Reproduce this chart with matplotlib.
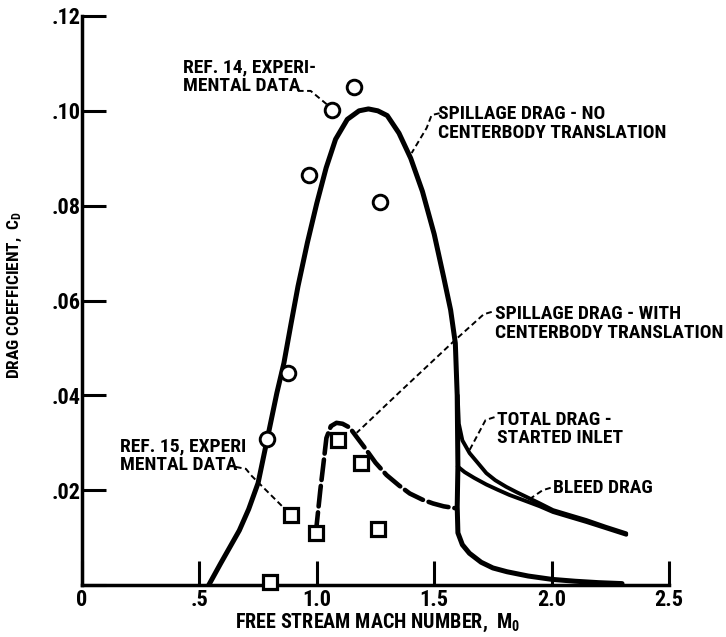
import matplotlib
matplotlib.use("Agg")
import matplotlib.pyplot as plt

FONT = ["Roboto Condensed", "DejaVu Sans"]
WEIGHT = "bold"
plt.rcParams["font.family"] = FONT
plt.rcParams["font.weight"] = WEIGHT
plt.rcParams["mathtext.fontset"] = "custom"
plt.rcParams["mathtext.rm"] = "Roboto Condensed:bold"
plt.rcParams["mathtext.it"] = "Roboto Condensed:bold"
plt.rcParams["mathtext.bf"] = "Roboto Condensed:bold"

# Spillage drag, no centerbody translation (includes subcritical tail)
spill_no_x = [0.54, 0.59, 0.63, 0.67, 0.71, 0.75, 0.79, 0.83, 0.86, 0.89, 0.92,
              0.96, 1.00, 1.04, 1.08, 1.13, 1.18, 1.22, 1.26, 1.30, 1.35, 1.40,
              1.45, 1.50, 1.54, 1.57, 1.59, 1.598, 1.601, 1.598, 1.601, 1.62,
              1.65, 1.70, 1.75, 1.81, 1.90, 2.00, 2.10, 2.20, 2.30]
spill_no_y = [0.0, 0.0045, 0.0080, 0.0115, 0.0160, 0.0215, 0.0310, 0.0405, 0.0468,
              0.0550, 0.0630, 0.0722, 0.0805, 0.0880, 0.0940, 0.0982, 0.1000,
              0.1004, 0.1000, 0.0990, 0.0953, 0.0900, 0.0830, 0.0740, 0.0650,
              0.0580, 0.0510, 0.0400, 0.0250, 0.0165, 0.0110, 0.0085, 0.0067,
              0.0048, 0.0036, 0.0028, 0.0019, 0.0012, 0.0008, 0.0005, 0.0003]

# Spillage drag with centerbody translation (dashed)
spill_tr_x = [0.996, 1.015, 1.027, 1.041, 1.06, 1.084, 1.11, 1.14, 1.17, 1.211,
              1.25, 1.297, 1.35, 1.396, 1.45, 1.495, 1.54, 1.59]
spill_tr_y = [0.0110, 0.0200, 0.0250, 0.0310, 0.0335, 0.0342, 0.0340, 0.0332,
              0.0312, 0.0285, 0.0258, 0.0232, 0.0210, 0.0193, 0.0180, 0.0172,
              0.0166, 0.0162]

# Total drag, started inlet
total_x = [1.600, 1.605, 1.62, 1.651, 1.69, 1.722, 1.76, 1.807, 1.85, 1.892,
           1.95, 2.006, 2.08, 2.148, 2.23, 2.318]
total_y = [0.0400, 0.0340, 0.0305, 0.0278, 0.0255, 0.0236, 0.0221, 0.0207,
           0.0196, 0.0186, 0.0172, 0.0158, 0.0147, 0.0137, 0.0123, 0.0109]

# Bleed drag
bleed_x = [1.600, 1.63, 1.67, 1.722, 1.77, 1.82, 1.88, 1.95, 2.006, 2.08,
           2.148, 2.23, 2.318]
bleed_y = [0.0250, 0.0238, 0.0226, 0.0212, 0.0201, 0.0190, 0.0179, 0.0166,
           0.0154, 0.0143, 0.0133, 0.0120, 0.0106]

# Ref. 14 experimental data (circles)
ref14_x = [0.786, 0.878, 0.965, 1.064, 1.160, 1.270]
ref14_y = [0.0308, 0.0447, 0.0865, 0.1002, 0.1050, 0.0808]

# Ref. 15 experimental data (squares)
ref15_x = [0.80, 0.89, 0.996, 1.09, 1.19, 1.26]
ref15_y = [0.0007, 0.0148, 0.0110, 0.0306, 0.0257, 0.0118]

xticks = [0, 0.5, 1.0, 1.5, 2.0, 2.5]
xtick_labels = ["0", ".5", "1.0", "1.5", "2.0", "2.5"]
yticks = [0, 0.02, 0.04, 0.06, 0.08, 0.10, 0.12]
ytick_labels = ["", ".02", ".04", ".06", ".08", ".10", ".12"]

fig = plt.figure(figsize=(7.26, 6.37), dpi=100)
ax = fig.add_axes([0.1129, 0.0816, 0.8086, 0.8933])
ax.set_xlim(0, 2.5)
ax.set_ylim(0, 0.12)

ink = "black"
ax.plot(spill_no_x, spill_no_y, color=ink, lw=3.6, solid_capstyle="round",
        solid_joinstyle="round", zorder=3)
ax.plot(total_x, total_y, color=ink, lw=2.8, solid_capstyle="round", zorder=3)
ax.plot(bleed_x, bleed_y, color=ink, lw=2.8, solid_capstyle="round", zorder=3)
ax.plot(spill_tr_x, spill_tr_y, color=ink, lw=3.3, linestyle=(0, (4.5, 1.3)),
        dash_capstyle="round", zorder=3)

ax.plot(ref14_x, ref14_y, linestyle="none", marker="o", markersize=10.5,
        markerfacecolor="white", markeredgecolor=ink, markeredgewidth=2.1,
        zorder=4, clip_on=False)
ax.plot(ref15_x, ref15_y, linestyle="none", marker="s", markersize=9.5,
        markerfacecolor="white", markeredgecolor=ink, markeredgewidth=2.3,
        zorder=4, clip_on=False)

# Axes frame
for side in ("top", "right"):
    ax.spines[side].set_visible(False)
for side in ("left", "bottom"):
    ax.spines[side].set_linewidth(2.5)
ax.set_xticks(xticks)
ax.set_xticklabels(xtick_labels, fontweight=WEIGHT)
ax.set_yticks(yticks)
ax.set_yticklabels(ytick_labels, fontweight=WEIGHT)
ax.tick_params(direction="in", length=17, width=2.2, labelsize=16)
ax.tick_params(axis="y", pad=1)
ax.tick_params(axis="x", pad=3)

ax.set_xlabel(r"FREE STREAM MACH NUMBER,  M$_0$", fontsize=14.5, fontweight=WEIGHT)
ax.xaxis.set_label_coords(0.504, -0.047)
ax.set_ylabel(r"DRAG COEFFICIENT,  C$_\mathrm{D}$", fontsize=12.5, fontweight=WEIGHT)
ax.yaxis.set_label_coords(-0.098, 0.51)

# Annotations with dashed leader lines
lead = dict(color=ink, lw=1.4, linestyle=(0, (3, 1.8)), zorder=2, clip_on=False)
txt = dict(fontsize=14, ha="left", va="top", linespacing=1.05, fontweight=WEIGHT)

ax.text(0.430, 0.1110, "REF. 14, EXPERI-\nMENTAL DATA", **txt)
ax.plot([0.919, 0.974, ref14_x[3] - 0.022], [0.1042, 0.1042, ref14_y[3] + 0.0012], **lead)

ax.text(1.515, 0.1012, "SPILLAGE DRAG - NO\nCENTERBODY TRANSLATION", **txt)
ax.plot([1.523, 1.489, 1.468, 1.404], [0.0995, 0.0991, 0.0964, 0.0911], **lead)

ax.text(1.757, 0.0590, "SPILLAGE DRAG - WITH\nCENTERBODY TRANSLATION", **txt)
ax.plot([1.745, 1.711, 1.579, 1.353, 1.170], [0.0576, 0.0571, 0.0512, 0.0407, 0.0321], **lead)

ax.text(1.766, 0.0368, "TOTAL DRAG -\nSTARTED INLET", **txt)
ax.plot([1.757, 1.719, 1.651], [0.0354, 0.0348, 0.0285], **lead)

ax.text(2.004, 0.0224, "BLEED DRAG", **txt)
ax.plot([1.996, 1.962, 1.906], [0.0205, 0.0200, 0.0181], **lead)

ax.text(0.162, 0.0312, "REF. 15, EXPERI\nMENTAL DATA", **txt)
ax.plot([0.655, 0.698, 0.723, ref15_x[1] - 0.025], [0.0249, 0.0245, 0.0230, ref15_y[1] + 0.0012], **lead)

fig.savefig("out.png", dpi=100)
